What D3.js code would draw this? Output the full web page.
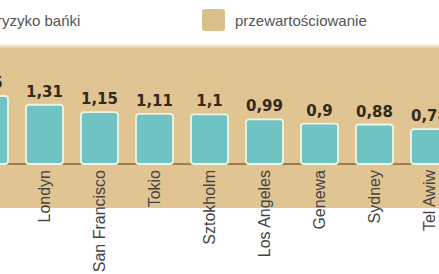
<!DOCTYPE html>
<html lang="pl">
<head>
    <meta charset="UTF-8">
    <title>Indeks bańki</title>
    <style type="text/css">
        * {
            margin: 0;
            padding: 0;
        }

        body {
            background: #fff;
            overflow: hidden;
        }
    </style>
</head>
<body>
<div id="chart-area"></div>
<script src="https://cdn.jsdelivr.net/npm/d3@7/dist/d3.min.js"></script>
<script type="text/javascript">

  const WIDTH = 439
  const HEIGHT = 274

  // dane
  const cities = ['Hongkong', 'Londyn', 'San Francisco', 'Tokio', 'Sztokholm', 'Los Angeles', 'Genewa', 'Sydney', 'Tel Awiw']
  const values = [1.5, 1.31, 1.15, 1.11, 1.1, 0.99, 0.9, 0.88, 0.78]
  const valueLabels = ['1,5', '1,31', '1,15', '1,11', '1,1', '0,99', '0,9', '0,88', '0,78']
  const legendLabels = ['ryzyko bańki', 'przewartościowanie']

  const data = cities.map((c, i) => ({city: c, value: values[i], label: valueLabels[i]}))

  const svg = d3.select('#chart-area').append('svg')
      .attr('width', WIDTH)
      .attr('height', HEIGHT)

  const defs = svg.append('defs')
  const grad = defs.append('linearGradient')
      .attr('id', 'band-top')
      .attr('x1', 0).attr('y1', 0).attr('x2', 0).attr('y2', 1)
  grad.append('stop').attr('offset', '0%').attr('stop-color', '#fff')
  grad.append('stop').attr('offset', '100%').attr('stop-color', '#e0c593')

  // tło
  svg.append('rect')
      .attr('x', 0).attr('y', 43)
      .attr('width', WIDTH).attr('height', 6)
      .attr('fill', 'url(#band-top)')
  svg.append('rect')
      .attr('x', 0).attr('y', 48)
      .attr('width', WIDTH).attr('height', 160)
      .attr('fill', '#e0c593')

  // legenda
  svg.append('text')
      .attr('x', -3)
      .attr('y', 21)
      .attr('dy', '0.35em')
      .attr('font-family', 'Liberation Sans, Arial, sans-serif')
      .attr('font-size', '15px')
      .attr('fill', '#555')
      .text(legendLabels[0])

  svg.append('rect')
      .attr('x', 202).attr('y', 9)
      .attr('width', 23).attr('height', 22)
      .attr('rx', 3)
      .attr('fill', '#dcc08c')

  svg.append('text')
      .attr('x', 235)
      .attr('y', 21)
      .attr('dy', '0.35em')
      .attr('font-family', 'Liberation Sans, Arial, sans-serif')
      .attr('font-size', '15px')
      .attr('fill', '#555')
      .text(legendLabels[1])

  const x = d3.scaleBand()
      .domain(cities)
      .range([-38, -38 + 55 * cities.length])
      .paddingInner(16 / 55)
      .paddingOuter(8 / 55)

  const y = d3.scaleLinear()
      .domain([0, 2])
      .range([164, 72])

  // linia bazowa
  svg.append('line')
      .attr('x1', 0).attr('x2', WIDTH)
      .attr('y1', y(0)).attr('y2', y(0))
      .attr('stroke', '#a07c50')
      .attr('stroke-width', 2)

  const bar = svg.selectAll('.bar')
      .data(data)
      .enter()
      .append('g')
      .attr('class', 'bar')

  bar.append('rect')
      .attr('x', (d) => x(d.city) + 1)
      .attr('y', (d) => y(d.value) + 1)
      .attr('width', x.bandwidth() - 2)
      .attr('height', (d) => y(0) - y(d.value) - 1)
      .attr('rx', 3)
      .attr('fill', '#6fc3c2')
      .attr('stroke', '#eef3e6')
      .attr('stroke-width', 1.8)

  bar.append('text')
      .attr('x', (d) => x(d.city) + x.bandwidth() / 2)
      .attr('y', (d) => y(d.value) - 7)
      .attr('text-anchor', 'middle')
      .attr('font-family', 'DejaVu Sans, sans-serif')
      .attr('font-weight', 'bold')
      .attr('font-size', '15px')
      .attr('fill', '#33291c')
      .text((d) => d.label)

  bar.append('text')
      .attr('transform', (d) => `translate(${x(d.city) + x.bandwidth() / 2}, 170) rotate(-90)`)
      .attr('dy', '0.35em')
      .attr('text-anchor', 'end')
      .attr('font-family', 'Liberation Sans, Arial, sans-serif')
      .attr('font-size', '16px')
      .attr('fill', '#444')
      .text((d) => d.city)

</script>
</body>
</html>
